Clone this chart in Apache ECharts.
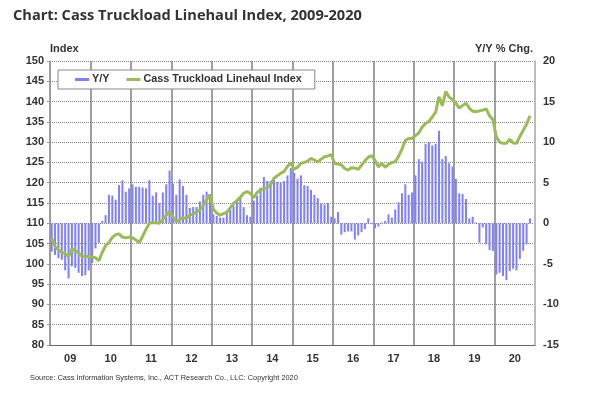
<!DOCTYPE html>
<html lang="en">
<head>
    <meta charset="UTF-8">
    <title>Cass Truckload Linehaul Index</title>
    <script src="https://cdn.jsdelivr.net/npm/echarts@6/dist/echarts.min.js"></script>
</head>
<body style="margin:0;background:#fff;">
<div id="chart" style="width:590px;height:399px;"></div>

<script type="text/javascript">
    // year labels under the x axis
    var years = ['09', '10', '11', '12', '13', '14', '15', '16', '17', '18', '19', '20'];

    // Cass Truckload Linehaul Index, monthly from Jan 2009
    var indexValues = [
        106.3, 104.3, 103.4, 102.9, 102.5, 101.8, 103.7, 103.2, 102.7, 101.8, 101.9, 101.8,
        101.7, 101.5, 100.8, 102.8, 104.5, 105.3, 106.5, 107.2, 107.4, 106.6, 106.4, 106.6,
        106.4, 105.9, 105.2, 106.8, 108.5, 110.0, 110.2, 110.1, 110.0, 110.9, 112.0, 112.9,
        111.6, 110.4, 110.9, 111.4, 111.2, 112.0, 112.3, 112.8, 113.3, 114.4, 115.8, 117.0,
        113.5, 112.5, 112.0, 112.4, 112.7, 113.8, 114.9, 115.6, 116.4, 117.4, 117.8, 117.4,
        116.3, 117.6, 118.2, 118.5, 118.8, 119.5, 121.1, 121.7, 122.3, 122.8, 124.0, 124.9,
        123.3, 123.8, 124.8, 125.0, 125.3, 126.0, 125.6, 125.1, 125.8, 126.4, 126.6, 126.9,
        124.8, 124.6, 124.4, 123.5, 123.1, 123.7, 123.6, 123.3, 124.3, 125.4, 126.3, 126.7,
        125.5, 123.9, 124.8, 123.8, 124.5, 125.0, 125.2, 126.5, 128.3, 130.4, 130.9, 130.9,
        131.6, 132.3, 133.7, 134.6, 135.1, 136.2, 137.4, 141.2, 139.0, 142.5, 141.1, 140.5,
        139.6, 138.4, 139.0, 139.6, 138.4, 137.6, 137.5, 137.7, 137.9, 138.2, 136.5, 135.5,
        131.3, 130.0, 129.7, 129.7, 130.7, 129.8, 129.7, 131.4, 132.9, 134.4, 136.5
    ];

    // Y/Y % change, monthly from Jan 2009
    var yoyValues = [
        -3.5, -3.9, -4.3, -4.5, -5.8, -6.8, -5.3, -5.5, -6.1, -6.5, -6.4, -5.8,
        -4.9, -3.1, -2.4, 0.3, 1.0, 3.5, 3.4, 2.9, 4.7, 5.3, 3.9, 4.3,
        4.8, 4.5, 4.5, 4.4, 4.3, 5.3, 3.4, 3.8, 2.5, 3.8, 4.8, 6.5,
        4.9, 3.5, 5.4, 4.6, 3.5, 1.9, 2.0, 2.0, 2.7, 3.5, 3.9, 3.6,
        1.1, 0.9, 0.7, 0.7, 1.5, 1.8, 2.2, 2.7, 3.3, 2.0, 1.0, 0.8,
        2.8, 3.4, 4.4, 5.7, 5.2, 5.2, 5.6, 5.1, 5.0, 5.2, 5.9, 6.8,
        6.2, 5.5, 5.9, 4.7, 4.6, 4.1, 3.5, 3.1, 2.4, 2.3, 2.5, 0.8,
        0.6, 1.4, -1.4, -1.1, -1.0, -1.0, -2.0, -1.5, -1.1, -0.7, 0.6, -0.1,
        -0.6, -0.4, 0.1, 0.3, 1.1, 0.7, 1.7, 2.6, 3.7, 4.8, 3.5, 3.8,
        5.9, 7.9, 7.6, 9.8, 10.0, 9.6, 9.8, 11.4, 7.9, 8.3, 7.4, 7.0,
        5.5, 3.7, 3.6, 3.0, 0.6, 0.8, 0.1, -2.4, -0.5, -2.6, -3.3, -3.4,
        -6.3, -6.1, -6.5, -7.0, -5.9, -5.6, -5.8, -4.4, -3.4, -2.6, 0.6
    ];

    // one category per month, 2009-2020
    var months = [];
    for (var y = 0; y < years.length; y++) {
        for (var m = 1; m <= 12; m++) {
            months.push(years[y] + '-' + m);
        }
    }

    var labelFont = {fontFamily: 'Liberation Sans', fontWeight: 'bold', fontSize: 11, color: '#333'};
    var nameFont = {fontFamily: 'Liberation Sans', fontWeight: 'bold', fontSize: 11, color: '#333'};

    var myChart = echarts.init(document.getElementById('chart'));

    myChart.setOption({
        animation: false,
        title: {
            text: 'Chart: Cass Truckload Linehaul Index, 2009-2020',
            left: 8,
            top: 3,
            textStyle: {fontFamily: 'Open Sans', fontWeight: 'bold', fontSize: 14.6, color: '#333'}
        },
        legend: {
            left: 58,
            top: 70,
            padding: [4, 13, 4, 17],
            itemGap: 17,
            itemWidth: 14,
            itemHeight: 3,
            backgroundColor: '#fff',
            borderColor: '#888',
            borderWidth: 1,
            textStyle: {fontFamily: 'Liberation Sans', fontWeight: 'bold', fontSize: 10.8, color: '#333', padding: [0, 0, 0, -2]},
            data: [
                {name: 'Y/Y', icon: 'rect'},
                {name: 'Cass Truckload Linehaul Index', icon: 'rect'}
            ]
        },
        grid: {left: 50, right: 55, top: 61, bottom: 54},
        xAxis: [
            {
                type: 'category',
                data: months,
                boundaryGap: true,
                show: false
            },
            {
                type: 'category',
                data: years,
                position: 'bottom',
                boundaryGap: true,
                axisLine: {lineStyle: {color: '#666', width: 1}},
                axisTick: {show: false},
                axisLabel: Object.assign({margin: 8}, labelFont),
                splitLine: {show: true, lineStyle: {color: '#808080', width: 1.5}}
            }
        ],
        yAxis: [
            {
                type: 'value',
                min: 80,
                max: 150,
                interval: 5,
                position: 'left',
                name: 'Index',
                nameLocation: 'end',
                nameGap: 7,
                nameTextStyle: Object.assign({align: 'left'}, nameFont),
                axisLine: {show: true, lineStyle: {color: '#999'}},
                axisTick: {show: true, length: 3, lineStyle: {color: '#999'}},
                axisLabel: Object.assign({margin: 6}, labelFont),
                splitLine: {show: true, lineStyle: {color: '#888', type: 'dotted', width: 1}}
            },
            {
                type: 'value',
                min: -15,
                max: 20,
                interval: 5,
                position: 'right',
                name: 'Y/Y % Chg.',
                nameLocation: 'end',
                nameGap: 7,
                nameTextStyle: Object.assign({align: 'right', padding: [0, 2, 0, 0]}, nameFont),
                axisLine: {show: true, lineStyle: {color: '#bbb', width: 2}},
                axisTick: {show: false},
                axisLabel: Object.assign({margin: 8}, labelFont),
                splitLine: {show: false}
            }
        ],
        graphic: [
            {
                type: 'text',
                left: 30,
                top: 374,
                style: {
                    text: 'Source: Cass Information Systems, Inc., ACT Research Co., LLC: Copyright 2020',
                    fontFamily: 'Liberation Sans',
                    fontSize: 7.4,
                    fill: '#333'
                }
            }
        ],
        series: [
            {
                name: 'Y/Y',
                type: 'bar',
                xAxisIndex: 0,
                yAxisIndex: 1,
                barWidth: 2,
                itemStyle: {color: '#7f7fff'},
                data: yoyValues
            },
            {
                name: 'Cass Truckload Linehaul Index',
                type: 'line',
                xAxisIndex: 0,
                yAxisIndex: 0,
                z: 5,
                showSymbol: false,
                symbol: 'none',
                itemStyle: {color: '#9bbb59'},
                lineStyle: {color: '#9bbb59', width: 3},
                data: indexValues
            }
        ]
    });
</script>
</body>
</html>
